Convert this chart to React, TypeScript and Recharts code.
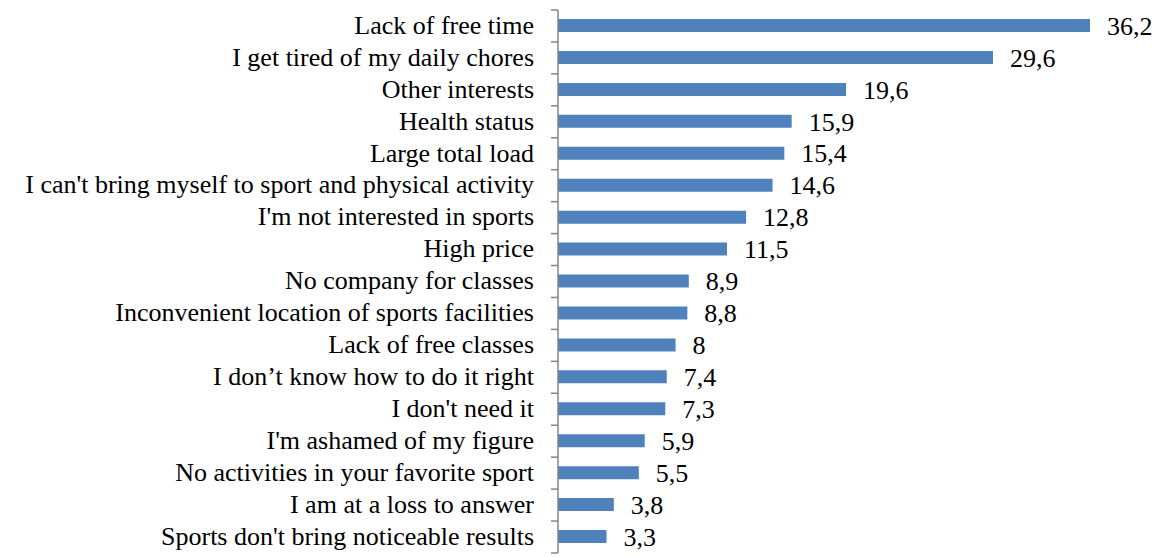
import React from 'react';
import { BarChart, Bar, XAxis, YAxis, LabelList } from 'recharts';

const categories = [
  'Lack of free time',
  'I get tired of my daily chores',
  'Other interests',
  'Health status',
  'Large total load',
  "I can't bring myself to sport and physical activity",
  "I'm not interested in sports",
  'High price',
  'No company for classes',
  'Inconvenient location of sports facilities',
  'Lack of free classes',
  'I don\u2019t know how to do it right',
  "I don't need it",
  "I'm ashamed of my figure",
  'No activities in your favorite sport',
  'I am at a loss to answer',
  "Sports don't bring noticeable results",
];

const values = [36.2, 29.6, 19.6, 15.9, 15.4, 14.6, 12.8, 11.5, 8.9, 8.8, 8, 7.4, 7.3, 5.9, 5.5, 3.8, 3.3];

const data = categories.map((name, i) => ({ name, value: values[i] }));

const WIDTH = 1162;
const HEIGHT = 557;
const TOP = 10;
const BOTTOM = 4;
const AXIS_X = 558;
const BAND = (HEIGHT - TOP - BOTTOM) / categories.length;
const FONT = 'Liberation Serif, Times New Roman, DejaVu Serif, serif';
const FONT_SIZE = 26;
const AXIS_COLOR = '#868686';

// category label + tick marks on the band boundaries (like Excel)
const CategoryTick = (props: any) => {
  const { y, payload, index } = props;
  const top = y - BAND / 2;
  return (
    <g>
      <line x1={AXIS_X - 7} x2={AXIS_X} y1={top} y2={top} stroke={AXIS_COLOR} strokeWidth={1.5} />
      {index === categories.length - 1 && (
        <line x1={AXIS_X - 7} x2={AXIS_X} y1={top + BAND} y2={top + BAND} stroke={AXIS_COLOR} strokeWidth={1.5} />
      )}
      <text x={AXIS_X - 24} y={y} dy="0.3em" textAnchor="end" fill="#000" style={{ fontSize: FONT_SIZE, fontFamily: FONT }}>
        {payload.value}
      </text>
    </g>
  );
};

export default function App() {
  return (
    <div style={{ position: 'absolute', left: 0, top: 0, background: '#fff', fontFamily: FONT }}>
      <BarChart
        width={WIDTH}
        height={HEIGHT}
        data={data}
        layout="vertical"
        margin={{ top: TOP, right: 72, bottom: BOTTOM, left: 0 }}
      >
        <XAxis type="number" domain={[0, 36.2]} hide />
        <YAxis
          type="category"
          dataKey="name"
          width={AXIS_X}
          interval={0}
          tickLine={false}
          axisLine={{ stroke: AXIS_COLOR, strokeWidth: 1.5 }}
          tick={<CategoryTick />}
        />
        <Bar dataKey="value" fill="#4F81BD" barSize={13} isAnimationActive={false}>
          <LabelList
            dataKey="value"
            position="right"
            offset={17}
            fill="#000"
            style={{ fontSize: FONT_SIZE, fontFamily: FONT }}
            formatter={(v: any) => String(v).replace('.', ',')}
          />
        </Bar>
      </BarChart>
    </div>
  );
}
